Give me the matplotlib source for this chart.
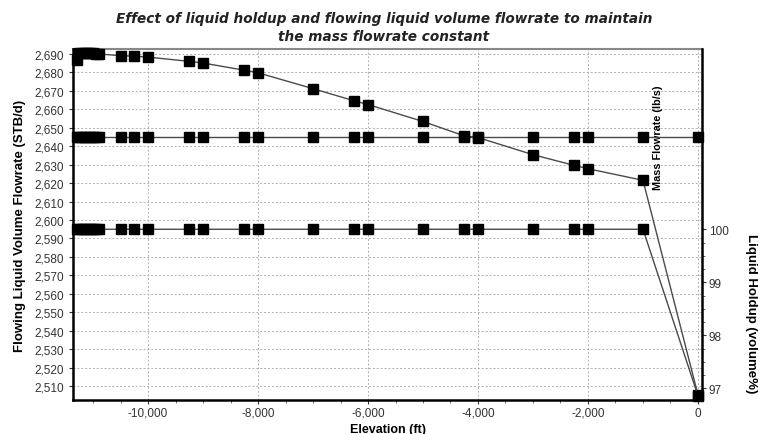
import numpy as np
import matplotlib.pyplot as plt
from matplotlib.ticker import MultipleLocator, FixedLocator, FuncFormatter

# elevation of each calculation node (ft)
elevation = [-11300, -11250, -11200, -11150, -11100, -11050, -11000, -10950, -10900,
             -10500, -10250, -10000, -9250, -9000, -8250, -8000, -7000, -6250, -6000,
             -5000, -4250, -4000, -3000, -2250, -2000, -1000, 0]

# flowing liquid volume flowrate (STB/d)
liquid_flowrate = [2686.8, 2690.3, 2690.5, 2690.6, 2690.6, 2690.5, 2690.4, 2690.2, 2690.0,
                   2689.1, 2688.8, 2688.3, 2686.0, 2685.1, 2681.2, 2679.8, 2671.2, 2664.6,
                   2662.6, 2653.4, 2645.6, 2644.7, 2635.4, 2629.6, 2627.8, 2621.5, 2505.2]

# liquid holdup (volume %)
holdup = [100.0, 100.0, 100.0, 100.0, 100.0, 100.0, 100.0, 100.0, 100.0,
          100.0, 100.0, 100.0, 100.0, 100.0, 100.0, 100.0, 100.0, 100.0, 100.0,
          100.0, 100.0, 100.0, 100.0, 100.0, 100.0, 100.0, 96.86]

# mass flowrate (lb/s), constant along the well
mass_flow = [30.0, 30.0, 30.0, 30.0, 30.0, 30.0, 30.0, 30.0, 30.0,
             30.0, 30.0, 30.0, 30.0, 30.0, 30.0, 30.0, 30.0, 30.0, 30.0,
             30.0, 30.0, 30.0, 30.0, 30.0, 30.0, 30.0, 30.0]

plt.rcParams['font.family'] = ['Liberation Sans', 'DejaVu Sans']

fig = plt.figure(figsize=(7.68, 4.35), dpi=100)
ax = fig.add_axes([73 / 768, 1 - 401 / 435, 629 / 768, 351 / 435])
ax2 = ax.twinx()
ax3 = ax.twinx()

line_kw = dict(color='#4a4a4a', lw=1.0, marker='s', ms=6.5,
               markerfacecolor='black', markeredgecolor='black', clip_on=False)

ax.plot(elevation, liquid_flowrate, zorder=3, **line_kw)
ax2.plot(elevation, holdup, zorder=3, **line_kw)
ax3.plot(elevation, mass_flow, zorder=3, **line_kw)

ax.set_xlim(-11364, 73)
ax.set_ylim(2502.4, 2692.7)
ax2.set_ylim(96.78, 103.4)
ax3.set_ylim(0, 40.1)

# x axis
ax.xaxis.set_major_locator(MultipleLocator(2000))
ax.xaxis.set_minor_locator(MultipleLocator(500))
comma = FuncFormatter(lambda v, p: '{:,.0f}'.format(v))
ax.xaxis.set_major_formatter(comma)
ax.set_xlabel('Elevation (ft)', fontsize=9, fontweight='bold', labelpad=3)

# left axis
ax.yaxis.set_major_locator(FixedLocator(np.arange(2510, 2691, 10)))
ax.yaxis.set_major_formatter(comma)
ax.set_ylabel('Flowing Liquid Volume Flowrate (STB/d)', fontsize=9.5, fontweight='bold', labelpad=6)

ax.grid(True, which='major', color='#b0b0b0', ls=(0, (2, 2)), lw=0.7)
ax.tick_params(axis='both', which='major', labelsize=8.5, colors='#333333', length=3, width=0.8)
ax.tick_params(axis='x', which='major', pad=2)
ax.tick_params(axis='x', which='minor', length=2.5, width=0.6, color='#555555')

# right axis: liquid holdup
ax2.yaxis.set_major_locator(FixedLocator([97, 98, 99, 100]))
ax2.yaxis.set_minor_locator(FixedLocator(np.arange(96.75, 100.01, 0.25)))
ax2.tick_params(axis='y', which='major', labelsize=8.5, colors='#333333', length=3, width=0.8, pad=2)
ax2.tick_params(axis='y', which='minor', length=2, width=0.6, color='#555555')
ax2.set_ylabel('Liquid Holdup (volume%)', fontsize=9.5, fontweight='bold', rotation=270)
ax2.yaxis.set_label_coords(1.088, 0.25)

# third axis: mass flowrate, no ticks
ax3.set_yticks([])
for s in ax3.spines.values():
    s.set_visible(False)
ax3.set_ylabel('Mass Flowrate (lb/s)', fontsize=7.8, fontweight='bold', rotation=90)
ax3.yaxis.set_label_coords(0.922, 0.75)

for a in (ax, ax2, ax3):
    a.spines['top'].set_visible(False)
ax.spines['left'].set_linewidth(1.8)
ax.spines['bottom'].set_linewidth(1.8)
ax2.spines['right'].set_linewidth(1.8)
ax2.spines['left'].set_visible(False)
ax2.spines['bottom'].set_visible(False)
ax.spines['right'].set_visible(False)
ax.axhline(2692.7, color='#888888', lw=1.5, clip_on=False)

fig.text(0.5, 1 - 28 / 435, 'Effect of liquid holdup and flowing liquid volume flowrate to maintain\n'
         'the mass flowrate constant', ha='center', va='center', fontsize=9.8,
         fontweight='bold', style='italic', family='DejaVu Sans', color='#222222', linespacing=1.3)

fig.savefig('out.png', dpi=100)
